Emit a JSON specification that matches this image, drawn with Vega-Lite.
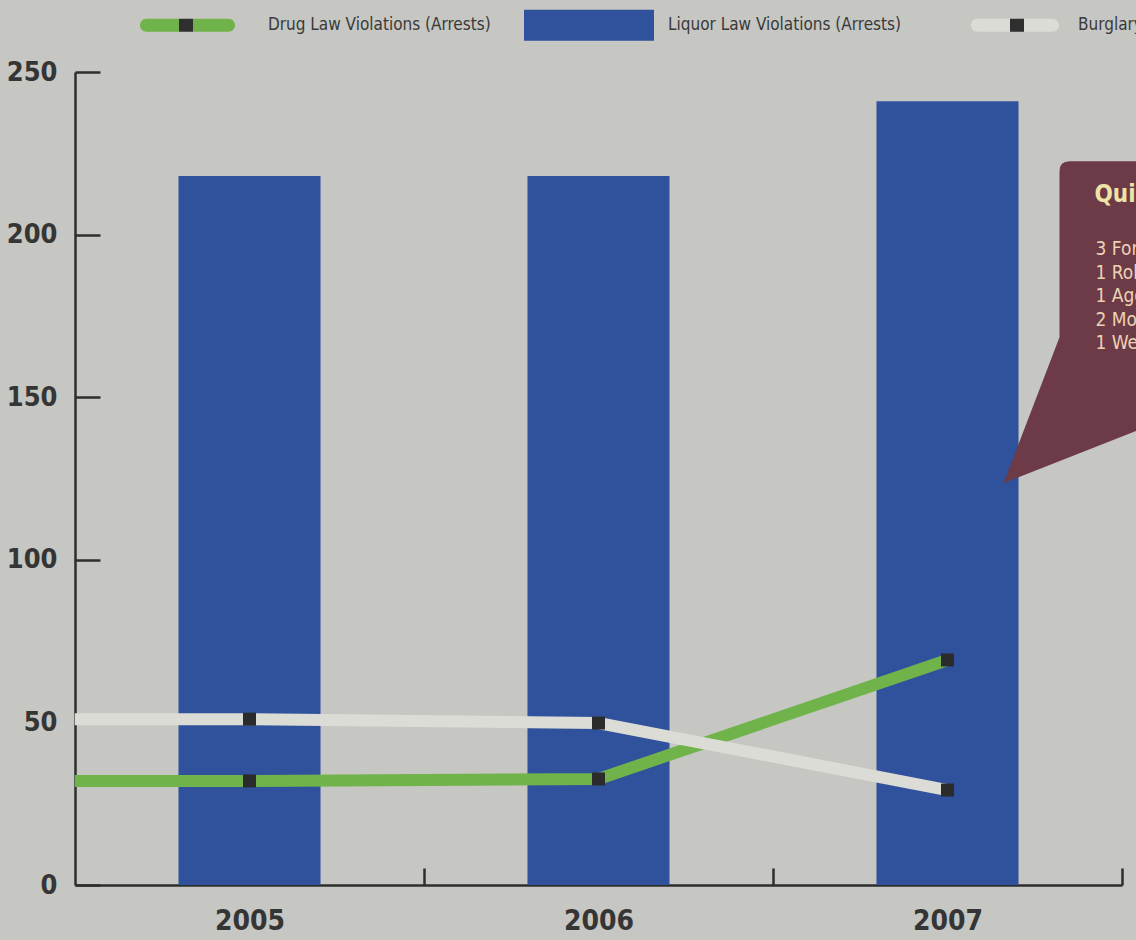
{
  "$schema": "https://vega.github.io/schema/vega-lite/v6.json",
  "autosize": {"type": "none"},
  "padding": {"left": 75, "top": 72, "right": 14, "bottom": 55},
  "width": 1047,
  "height": 813,
  "background": "#c6c6c2",
  "config": {
    "view": {"stroke": null},
    "font": "DejaVu Sans Condensed, sans-serif"
  },
  "data": {
    "values": [
      {"year": 2005, "series": "Liquor Law Violations (Arrests)", "value": 218},
      {"year": 2006, "series": "Liquor Law Violations (Arrests)", "value": 218},
      {"year": 2007, "series": "Liquor Law Violations (Arrests)", "value": 241},
      {"year": 2005, "series": "Drug Law Violations (Arrests)", "value": 32},
      {"year": 2006, "series": "Drug Law Violations (Arrests)", "value": 32.6},
      {"year": 2007, "series": "Drug Law Violations (Arrests)", "value": 69.2},
      {"year": 2005, "series": "Burglary", "value": 51},
      {"year": 2006, "series": "Burglary", "value": 49.8},
      {"year": 2007, "series": "Burglary", "value": 29.2}
    ]
  },
  "encoding": {
    "x": {
      "field": "year",
      "type": "ordinal",
      "title": null,
      "scale": {"paddingInner": 0.593, "paddingOuter": 0.2965},
      "axis": {
        "tickOffset": 174.5,
        "labelOffset": -174.5,
        "tickSize": -17,
        "tickWidth": 2.5,
        "tickColor": "#2e2e2e",
        "domainColor": "#2e2e2e",
        "domainWidth": 2.5,
        "labelAngle": 0,
        "labelFont": "DejaVu Sans Condensed, sans-serif",
        "labelFontWeight": "bold",
        "labelFontSize": 28,
        "labelColor": "#353535",
        "labelPadding": 39,
        "labelBaseline": "top"
      }
    },
    "y": {
      "field": "value",
      "type": "quantitative",
      "title": null,
      "scale": {"domain": [0, 250], "nice": false},
      "axis": {
        "values": [0, 50, 100, 150, 200, 250],
        "tickSize": -25,
        "tickWidth": 2.5,
        "tickColor": "#2e2e2e",
        "domainColor": "#2e2e2e",
        "domainWidth": 2.5,
        "grid": false,
        "labelFont": "DejaVu Sans Condensed, sans-serif",
        "labelFontWeight": "bold",
        "labelFontSize": 27,
        "labelColor": "#353535",
        "labelPadding": 43
      }
    },
    "color": {
      "field": "series",
      "type": "nominal",
      "scale": {
        "domain": ["Drug Law Violations (Arrests)", "Liquor Law Violations (Arrests)", "Burglary"],
        "range": [
          {"expr": "{gradient: 'linear', stops: [{offset: 0, color: '#6fb34a'}, {offset: 0.41, color: '#6fb34a'}, {offset: 0.41, color: '#2f2f2f'}, {offset: 0.56, color: '#2f2f2f'}, {offset: 0.56, color: '#6fb34a'}, {offset: 1, color: '#6fb34a'}]}"},
          "#30529c",
          {"expr": "{gradient: 'linear', stops: [{offset: 0, color: '#dcdcd6'}, {offset: 0.44, color: '#dcdcd6'}, {offset: 0.44, color: '#2f2f2f'}, {offset: 0.6, color: '#2f2f2f'}, {offset: 0.6, color: '#dcdcd6'}, {offset: 1, color: '#dcdcd6'}]}"}
        ]
      },
      "legend": {
        "title": null,
        "orient": "none",
        "direction": "horizontal",
        "legendX": 49,
        "legendY": -112,
        "symbolSize": 16900,
        "symbolStrokeWidth": 0,
        "symbolOpacity": 1,
        "labelFont": "DejaVu Sans Condensed, sans-serif",
        "labelFontSize": 17,
        "labelColor": "#3a3a3a",
        "labelOffset": 14,
        "columnPadding": 33,
        "labelLimit": 400
      }
    }
  },
  "layer": [
    {
      "transform": [{"filter": "datum.series === 'Liquor Law Violations (Arrests)'"}],
      "mark": {"type": "bar", "opacity": 1}
    },
    {
      "transform": [{"filter": "datum.series === 'Liquor Law Violations (Arrests)'"}],
      "mark": {"type": "point", "filled": true, "opacity": 0, "strokeWidth": 0},
      "encoding": {
        "shape": {
          "field": "series",
          "type": "nominal",
          "scale": {
            "domain": ["Drug Law Violations (Arrests)", "Liquor Law Violations (Arrests)", "Burglary"],
            "range": [
              "M0,-0.238V0.238M-0.654,-0.1H0.608A0.1,0.1 0 0 1 0.608,0.1H-0.654A0.1,0.1 0 0 1 -0.654,-0.1Z",
              "M-1,-0.238H1V0.238H-1Z",
              "M0,-0.238V0.238M-0.331,-0.1H0.823A0.1,0.1 0 0 1 0.823,0.1H-0.331A0.1,0.1 0 0 1 -0.331,-0.1Z"
            ]
          },
          "legend": {
            "title": null,
            "orient": "none",
            "direction": "horizontal",
            "legendX": 49,
            "legendY": -112,
            "symbolSize": 16900,
            "symbolStrokeWidth": 0,
            "symbolOpacity": 1,
            "labelFont": "DejaVu Sans Condensed, sans-serif",
            "labelFontSize": 17,
            "labelColor": "#3a3a3a",
            "labelOffset": 14,
            "columnPadding": 33,
            "labelLimit": 400
          }
        }
      }
    },
    {
      "transform": [{"filter": "datum.series === 'Drug Law Violations (Arrests)' && datum.year === 2005"}],
      "mark": {"type": "rule", "strokeWidth": 12, "strokeCap": "butt"},
      "encoding": {
        "x": {"field": "year", "type": "ordinal", "bandPosition": -0.73},
        "x2": {"field": "year", "bandPosition": 0.5},
        "color": {"value": "#6fb34a"}
      }
    },
    {
      "transform": [{"filter": "datum.series === 'Drug Law Violations (Arrests)'"}],
      "mark": {"type": "line", "strokeWidth": 12, "strokeCap": "butt", "strokeJoin": "miter"},
      "encoding": {"color": {"value": "#6fb34a"}}
    },
    {
      "transform": [{"filter": "datum.series === 'Burglary' && datum.year === 2005"}],
      "mark": {"type": "rule", "strokeWidth": 12, "strokeCap": "butt"},
      "encoding": {
        "x": {"field": "year", "type": "ordinal", "bandPosition": -0.73},
        "x2": {"field": "year", "bandPosition": 0.5},
        "color": {"value": "#dcdcd6"}
      }
    },
    {
      "transform": [{"filter": "datum.series === 'Burglary'"}],
      "mark": {"type": "line", "strokeWidth": 12, "strokeCap": "butt", "strokeJoin": "miter"},
      "encoding": {"color": {"value": "#dcdcd6"}}
    },
    {
      "transform": [{"filter": "datum.series !== 'Liquor Law Violations (Arrests)'"}],
      "mark": {"type": "point", "shape": "square", "filled": true, "size": 169, "opacity": 1, "strokeWidth": 0},
      "encoding": {"color": {"value": "#2b2b2b"}}
    },
    {
      "transform": [{"filter": "datum.series === 'Liquor Law Violations (Arrests)' && datum.year === 2007"}],
      "mark": {"type": "point", "filled": true, "size": 4, "opacity": 1, "strokeWidth": 0, "clip": false,
        "shape": "M112,70Q112,60 122,60H400V309H241L56,382L112,236Z"},
      "encoding": {"color": {"value": "#6c3b47"}}
    },
    {
      "transform": [{"filter": "datum.series === 'Liquor Law Violations (Arrests)' && datum.year === 2007"}],
      "mark": {"type": "text", "align": "left", "baseline": "middle", "dx": 147, "dy": 94, "fontSize": 24, "fontWeight": "bold",
        "font": "DejaVu Sans Condensed, sans-serif"},
      "encoding": {
        "text": {"value": "Quick Facts"},
        "color": {"value": "#efe3a8"}
      }
    },
    {
      "transform": [{"filter": "datum.series === 'Liquor Law Violations (Arrests)' && datum.year === 2007"}],
      "mark": {"type": "text", "align": "left", "baseline": "top", "dx": 148, "dy": 139, "fontSize": 19, "lineBreak": "\n", "lineHeight": 23.5,
        "font": "DejaVu Sans Condensed, sans-serif"},
      "encoding": {
        "text": {"value": "3 Forcible Sex Offenses\n1 Robbery\n1 Aggravated Assault\n2 Motor Vehicle Thefts\n1 Weapons Law Violation"},
        "color": {"value": "#ecd2b4"}
      }
    }
  ]
}
